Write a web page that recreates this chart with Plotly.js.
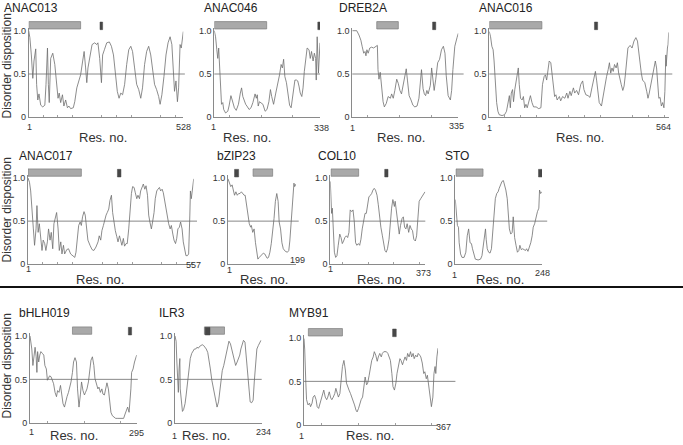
<!DOCTYPE html>
<html>
<head>
<meta charset="utf-8">
<script src="https://cdn.plot.ly/plotly-3.0.1.min.js"></script>
<style>html,body{margin:0;padding:0;background:#fff;}#chart{width:683px;height:445px;}</style>
</head>
<body>
<div id="chart"></div>
<script>
// ---------- DATA ----------
const proteins = ['ANAC013','ANAC046','DREB2A','ANAC016','ANAC017','bZIP23','COL10','STO','bHLH019','ILR3','MYB91'];
const lengths  = [528,338,335,564,557,199,373,248,295,234,367];
const yTickVals = [0, 0.5, 1];
const yTickText = ['0', '0.5', '1.0'];
const threshold = 0.5;
// domain bars (residue ranges)
const greyStart = [1,1,78,1,1,74,4,3,118,80,13];
const greyEnd   = [178,168,146,166,180,131,112,80,171,134,106];
const darkStart = [244,331,254,331,301,20,214,238,272,82,243];
const darkEnd   = [253,338,264,341,313,32,227,248,281,95,253];

const anac013_res = [1,5,10,15,19,25,28,32,36,42,49,56,60,65,68,71,76,83,90,96,101,105,110,116,121,127,133,138,144,153,158,165,173,178,185,190,195,199,203,210,217,226,233,237,243,249,253,259,267,276,283,290,296,303,309,315,321,328,335,342,349,355,362,369,376,383,389,396,403,410,417,424,430,437,444,449,455,462,469,476,483,489,494,498,503,508,512,517,521,523,528];
const anac013_dis = [1.0,0.92,0.72,0.45,0.65,0.79,0.38,0.2,0.27,0.14,0.12,0.14,0.38,0.8,0.38,0.17,0.68,0.74,0.61,0.38,0.22,0.28,0.17,0.26,0.13,0.2,0.11,0.13,0.1,0.11,0.18,0.34,0.43,0.49,0.65,0.76,0.57,0.4,0.57,0.72,0.84,0.86,0.84,0.86,0.68,0.4,0.72,0.78,0.86,0.87,0.82,0.72,0.51,0.3,0.22,0.28,0.26,0.38,0.61,0.78,0.82,0.76,0.57,0.38,0.32,0.22,0.34,0.61,0.76,0.82,0.72,0.54,0.38,0.32,0.24,0.15,0.26,0.47,0.72,0.86,0.93,0.84,0.54,0.3,0.42,0.18,0.34,0.84,0.8,0.88,0.99];

const anac046_res = [1,5,9,12,15,18,21,24,28,31,37,44,48,54,58,65,71,78,84,88,92,97,101,105,112,118,124,131,135,138,141,145,150,156,163,169,175,180,184,190,197,203,209,214,218,222,226,231,237,241,246,250,254,258,263,267,271,275,280,284,288,292,297,303,307,311,316,320,324,326,329,333,338];
const anac046_dis = [1.0,0.93,0.78,0.68,0.8,0.57,0.26,0.15,0.17,0.09,0.05,0.07,0.13,0.25,0.2,0.11,0.08,0.15,0.28,0.34,0.24,0.18,0.15,0.13,0.09,0.11,0.17,0.27,0.22,0.26,0.13,0.18,0.17,0.15,0.07,0.09,0.18,0.32,0.24,0.15,0.28,0.38,0.49,0.61,0.57,0.67,0.47,0.4,0.26,0.14,0.11,0.22,0.38,0.43,0.43,0.42,0.36,0.28,0.24,0.34,0.53,0.68,0.8,0.78,0.68,0.76,0.65,0.74,0.68,0.43,0.93,0.51,0.86];

const dreb2a_res = [1,15,22,28,32,37,41,44,47,51,56,62,68,75,80,82,85,89,93,98,102,108,114,121,125,130,135,141,146,151,156,162,167,171,175,180,186,192,198,205,211,215,219,224,228,232,236,240,247,251,255,259,264,270,276,282,288,293,297,303,310,314,318,324,331,335];
const dreb2a_dis = [1.0,1.0,0.95,0.89,0.82,0.74,0.76,0.71,0.78,0.74,0.8,0.81,0.8,0.82,0.83,0.55,0.44,0.52,0.37,0.18,0.12,0.16,0.24,0.22,0.27,0.22,0.31,0.44,0.39,0.31,0.27,0.4,0.48,0.56,0.42,0.25,0.2,0.14,0.12,0.13,0.22,0.4,0.55,0.33,0.27,0.25,0.31,0.27,0.37,0.57,0.39,0.31,0.44,0.63,0.67,0.78,0.82,0.74,0.48,0.25,0.2,0.31,0.55,0.82,0.92,0.97];

const anac016_res = [1,5,9,13,16,20,24,28,32,41,49,55,60,64,67,70,74,77,81,85,89,92,95,99,104,108,112,116,120,124,130,135,140,148,156,163,168,173,177,181,185,189,194,198,202,206,210,214,221,225,231,238,244,248,254,258,265,269,275,281,288,294,298,304,311,317,323,330,334,338,342,346,353,357,361,365,369,374,378,382,386,390,394,399,403,407,411,415,420,424,428,432,436,443,449,455,461,466,470,474,478,482,489,495,499,503,510,516,522,526,529,533,537,541,545,549,552,555,556,560,562,564];
const anac016_dis = [0.99,0.93,0.82,0.78,0.65,0.38,0.17,0.07,0.03,0.02,0.03,0.07,0.2,0.25,0.11,0.28,0.32,0.18,0.32,0.43,0.54,0.57,0.38,0.22,0.2,0.24,0.11,0.15,0.11,0.18,0.25,0.17,0.12,0.12,0.1,0.11,0.38,0.47,0.49,0.43,0.57,0.65,0.63,0.47,0.32,0.24,0.26,0.2,0.24,0.19,0.24,0.22,0.28,0.22,0.3,0.25,0.34,0.28,0.31,0.26,0.38,0.42,0.32,0.26,0.25,0.23,0.34,0.47,0.53,0.42,0.26,0.17,0.13,0.22,0.32,0.36,0.47,0.55,0.63,0.51,0.57,0.53,0.61,0.57,0.63,0.51,0.43,0.38,0.31,0.36,0.49,0.68,0.8,0.83,0.8,0.88,0.92,0.88,0.74,0.65,0.51,0.43,0.4,0.3,0.22,0.28,0.42,0.55,0.65,0.57,0.36,0.22,0.23,0.13,0.17,0.11,0.3,0.72,0.59,0.8,0.84,0.98];

const anac017_res = [1,6,10,14,19,23,28,31,35,39,44,48,52,57,61,66,70,75,79,84,88,93,97,102,106,111,115,120,124,131,137,144,151,158,162,167,171,176,180,184,189,193,198,202,209,216,222,229,236,240,245,249,254,258,263,267,272,276,281,285,290,294,299,303,308,312,316,321,325,330,334,339,343,348,352,357,361,366,370,375,379,384,388,393,397,402,406,410,415,419,424,428,433,437,442,446,451,455,460,464,469,473,478,482,487,491,496,500,504,509,513,518,522,527,531,536,540,544,546,549,554,557];
const anac017_dis = [1.0,0.95,0.85,0.6,0.41,0.22,0.41,0.68,0.37,0.47,0.26,0.16,0.28,0.24,0.16,0.26,0.41,0.28,0.37,0.18,0.47,0.57,0.6,0.41,0.16,0.26,0.12,0.22,0.12,0.17,0.18,0.12,0.1,0.08,0.14,0.28,0.45,0.49,0.45,0.55,0.61,0.57,0.41,0.28,0.22,0.17,0.16,0.2,0.26,0.33,0.28,0.39,0.45,0.51,0.57,0.6,0.64,0.74,0.8,0.6,0.45,0.39,0.32,0.26,0.33,0.28,0.22,0.3,0.21,0.24,0.24,0.41,0.64,0.82,0.9,0.89,0.83,0.76,0.8,0.76,0.85,0.91,0.93,0.87,0.91,0.8,0.57,0.49,0.41,0.49,0.6,0.76,0.85,0.87,0.89,0.85,0.87,0.83,0.72,0.68,0.57,0.47,0.41,0.45,0.35,0.28,0.24,0.3,0.41,0.43,0.49,0.41,0.26,0.14,0.1,0.1,0.12,0.57,0.85,0.76,0.87,0.99];

const bzip23_res = [1,5,9,13,17,20,24,28,32,36,40,44,48,51,55,59,63,67,69,73,77,81,84,88,92,96,100,104,108,112,115,119,123,127,131,135,139,143,147,150,154,158,162,168,174,178,181,185,189,193,195,199];
const bzip23_dis = [0.99,0.95,0.9,0.92,0.84,0.8,0.84,0.8,0.82,0.82,0.84,0.82,0.8,0.8,0.69,0.57,0.47,0.43,0.45,0.37,0.41,0.25,0.14,0.06,0.08,0.1,0.12,0.13,0.12,0.08,0.07,0.08,0.14,0.24,0.37,0.53,0.73,0.82,0.73,0.49,0.41,0.25,0.18,0.15,0.14,0.16,0.27,0.47,0.69,0.94,0.9,0.93];

const col10_res = [1,4,6,9,13,17,22,27,32,38,43,48,53,58,64,69,74,79,85,90,95,100,105,111,116,121,126,132,137,142,147,152,158,163,168,173,178,184,189,194,199,205,210,215,220,225,231,236,241,246,252,255,261,266,271,276,282,287,292,297,302,308,313,318,323,328,334,339,344,349,355,360,365,372];
const col10_dis = [0.96,0.73,0.59,0.65,0.41,0.14,0.08,0.1,0.22,0.35,0.31,0.24,0.27,0.31,0.33,0.31,0.37,0.63,0.61,0.63,0.49,0.25,0.22,0.24,0.22,0.29,0.41,0.53,0.59,0.59,0.69,0.78,0.8,0.82,0.86,0.88,0.86,0.8,0.69,0.55,0.43,0.33,0.24,0.16,0.14,0.18,0.29,0.49,0.65,0.75,0.67,0.73,0.57,0.41,0.35,0.45,0.53,0.55,0.43,0.41,0.47,0.37,0.45,0.41,0.39,0.29,0.27,0.33,0.49,0.73,0.76,0.78,0.8,0.84];

const sto_res = [1,4,7,10,12,16,20,26,31,35,39,43,47,50,54,58,66,73,77,81,84,87,89,92,96,100,104,107,111,115,119,123,126,130,134,138,142,145,149,151,155,159,163,166,170,174,178,182,185,189,193,197,201,204,208,212,216,220,223,227,231,235,239,241,244,247];
const sto_dis = [0.75,0.53,0.45,0.43,0.25,0.12,0.08,0.08,0.14,0.33,0.41,0.25,0.24,0.18,0.1,0.06,0.05,0.06,0.1,0.22,0.37,0.41,0.29,0.18,0.14,0.13,0.18,0.33,0.57,0.76,0.82,0.84,0.88,0.92,0.96,0.97,0.92,0.86,0.76,0.61,0.41,0.35,0.37,0.55,0.31,0.22,0.14,0.16,0.22,0.17,0.18,0.17,0.16,0.18,0.15,0.2,0.25,0.33,0.43,0.47,0.55,0.61,0.65,0.86,0.82,0.84];

const bhlh019_res = [1,4,6,9,12,15,18,20,22,25,28,31,35,39,42,46,49,52,55,59,63,66,70,74,77,81,85,88,92,96,99,103,107,110,114,118,121,125,129,132,136,140,143,147,151,154,158,162,165,169,173,177,180,184,188,191,195,199,202,206,210,213,217,221,224,228,232,237,243,248,254,259,263,267,270,274,277,279,281,285,289,295];
const bhlh019_dis = [1.0,0.93,0.85,0.66,0.74,0.87,0.76,0.58,0.82,0.7,0.78,0.82,0.8,0.78,0.66,0.62,0.49,0.51,0.54,0.53,0.47,0.45,0.35,0.3,0.37,0.35,0.43,0.32,0.22,0.18,0.24,0.3,0.35,0.39,0.47,0.58,0.7,0.75,0.7,0.39,0.18,0.33,0.47,0.37,0.32,0.35,0.39,0.47,0.62,0.72,0.76,0.66,0.51,0.43,0.39,0.41,0.35,0.39,0.33,0.32,0.43,0.46,0.39,0.24,0.12,0.08,0.07,0.05,0.05,0.05,0.05,0.05,0.1,0.16,0.18,0.12,0.24,0.39,0.58,0.62,0.7,0.78];

const ilr3_res = [1,4,6,8,10,12,14,15,18,21,24,28,31,35,39,42,46,49,53,57,60,64,67,71,74,78,82,85,89,92,96,100,103,107,110,114,118,121,125,128,132,135,139,143,146,150,153,157,160,164,168,171,175,178,182,185,189,193,196,200,203,207,211,214,218,221,225,229,232];
const ilr3_dis = [1.0,0.94,0.7,0.58,0.35,0.62,0.74,0.39,0.2,0.13,0.15,0.22,0.32,0.47,0.62,0.74,0.8,0.83,0.85,0.85,0.87,0.86,0.88,0.89,0.9,0.89,0.87,0.85,0.81,0.74,0.62,0.49,0.42,0.34,0.26,0.18,0.24,0.35,0.49,0.6,0.66,0.72,0.81,0.89,0.94,0.91,0.85,0.78,0.7,0.66,0.7,0.74,0.78,0.85,0.91,0.95,0.93,0.74,0.55,0.35,0.24,0.23,0.26,0.47,0.7,0.85,0.89,0.93,0.95];

const myb91_res = [1,3,6,8,12,16,19,23,26,30,34,37,41,45,48,52,55,59,63,66,70,74,77,81,85,88,92,95,99,103,106,110,114,117,121,124,128,132,135,139,143,146,150,154,157,161,164,168,172,175,179,183,186,190,193,197,201,204,208,212,215,219,223,226,230,233,237,241,244,248,252,255,259,263,266,270,273,277,281,284,288,292,295,299,302,306,310,313,317,320,324,328,331,335,338,342,346,349,353,356,359,361,364,367];
const myb91_dis = [0.99,0.86,0.48,0.29,0.23,0.25,0.21,0.25,0.32,0.34,0.29,0.21,0.19,0.25,0.32,0.38,0.4,0.32,0.29,0.32,0.38,0.31,0.29,0.32,0.36,0.42,0.36,0.32,0.36,0.59,0.67,0.74,0.63,0.48,0.42,0.4,0.36,0.32,0.29,0.23,0.17,0.15,0.19,0.25,0.29,0.32,0.42,0.55,0.46,0.48,0.57,0.69,0.74,0.78,0.84,0.8,0.73,0.78,0.82,0.78,0.82,0.84,0.84,0.84,0.82,0.78,0.74,0.59,0.44,0.4,0.48,0.59,0.67,0.76,0.74,0.69,0.73,0.78,0.74,0.82,0.78,0.84,0.78,0.82,0.76,0.8,0.78,0.82,0.8,0.78,0.71,0.59,0.61,0.53,0.57,0.44,0.29,0.21,0.32,0.59,0.67,0.59,0.78,0.88];

const residueSeries = [anac013_res, anac046_res, dreb2a_res, anac016_res, anac017_res, bzip23_res, col10_res, sto_res, bhlh019_res, ilr3_res, myb91_res];
const disorderSeries = [anac013_dis, anac046_dis, dreb2a_dis, anac016_dis, anac017_dis, bzip23_dis, col10_dis, sto_dis, bhlh019_dis, ilr3_dis, myb91_dis];

// ---------- LAYOUT (pixel boxes: left, right, top(y=1.03), bottom(y=0)) ----------
const W = 683, H = 445;
const YMAX = 1.03;
const boxes = [
  [28.7,183.3,28.1,117.3],[214.3,320,28.1,117.3],[352.3,458.3,28.1,117.3],[489.3,668.7,28.1,117.3],
  [28,193.7,175.4,264.3],[228,296,175.4,264.3],[330.3,425.3,175.4,264.3],[455.3,542,175.4,264.3],
  [30,136.7,333.4,422.7],[175,261.7,333.4,422.7],[304,438,335.1,425]
];
const titlePos = [[2,8],[202,8],[337,8],[477,8],[17,156],[215,156],[316,156],[443,156],[17,313],[157,313],[287,313]];
const resLabelPos = [[103,137],[247,137],[401,137],[580,137],[100,279],[264,279],[381,279],[500,279],[74,435],[206,435],[370,435]];
const startLabelPos = [[29,127],[213,127],[352,128],[489,128],[28.5,269],[229.5,270],[330,269],[454.5,275],[31,432],[174,436],[301,436]];
const endLabelPos = [[183.5,127],[321,128],[456,126],[663,127],[193,265],[297,259.5],[423,273],[542.5,272.5],[136,432.5],[263,432],[443,427]];
const lineExt = [1.01,1.0,1.05,1.02,1.02,1.04,1.0,1.06,1.01,1.0,1.13];
const ylabPos = [66,210,366];

const FONT = 'Liberation Sans, Arial, Helvetica, sans-serif';
const px = v => v / W;
const py = v => 1 - v / H;

const data = [];
const shapes = [];
const annotations = [];
const layout = {
  width: W, height: H,
  margin: {l:0, r:0, t:0, b:0},
  paper_bgcolor: '#fff', plot_bgcolor: 'rgba(0,0,0,0)',
  showlegend: false,
  font: {family: FONT, color: '#333'},
  shapes: shapes, annotations: annotations
};

proteins.forEach((name, i) => {
  const n = i + 1;
  const xa = n === 1 ? 'x' : 'x' + n;
  const ya = n === 1 ? 'y' : 'y' + n;
  const xk = n === 1 ? 'xaxis' : 'xaxis' + n;
  const yk = n === 1 ? 'yaxis' : 'yaxis' + n;
  const [l, r, t, b] = boxes[i];

  data.push({
    type: 'scatter', mode: 'lines',
    x: residueSeries[i], y: disorderSeries[i],
    xaxis: xa, yaxis: ya,
    line: {color: '#6f6f6f', width: 0.8},
    hoverinfo: 'skip', cliponaxis: true
  });

  layout[xk] = {
    domain: [px(l), px(r)], anchor: ya,
    range: [1, lengths[i]],
    showline: true, linecolor: '#8a8a8a', linewidth: 1,
    showgrid: false, zeroline: false, showticklabels: false, ticks: '',
    minor: {ticks: 'inside', ticklen: 2, tickcolor: '#a0a0a0', tickwidth: 1, tickmode: 'linear', tick0: 0, dtick: 50, showgrid: false},
    fixedrange: true
  };
  layout[yk] = {
    domain: [py(b), py(t)], anchor: xa,
    range: [0, YMAX],
    tickmode: 'array', tickvals: yTickVals, ticktext: yTickText,
    tickfont: {size: 9, color: '#333', family: FONT},
    ticks: '', ticklen: 0,
    showline: true, linecolor: '#8a8a8a', linewidth: 1,
    showgrid: false, zeroline: false, fixedrange: true
  };

  // 0.5 threshold line
  shapes.push({type: 'line', xref: xa + ' domain', yref: ya, x0: 0, x1: lineExt[i], y0: threshold, y1: threshold,
    line: {color: '#6a6a6a', width: 0.8}});
  // domain bars
  shapes.push({type: 'rect', xref: xa, yref: ya + ' domain', x0: greyStart[i], x1: greyEnd[i],
    y0: 1.02 / YMAX, y1: 1.105 / YMAX, fillcolor: '#a9a9a9', line: {color: '#7d7d7d', width: 0.7}});
  shapes.push({type: 'rect', xref: xa, yref: ya + ' domain', x0: darkStart[i], x1: darkEnd[i],
    y0: 1.012 / YMAX, y1: 1.10 / YMAX, fillcolor: '#474747', line: {color: '#474747', width: 0.5}});

  // panel title
  annotations.push({text: name, xref: 'paper', yref: 'paper', x: px(titlePos[i][0]), y: py(titlePos[i][1]),
    xanchor: 'left', yanchor: 'middle', showarrow: false, font: {size: 12, color: '#222', family: FONT}});
  // x axis title
  annotations.push({text: 'Res. no.', xref: 'paper', yref: 'paper', x: px(resLabelPos[i][0]), y: py(resLabelPos[i][1]),
    xanchor: 'center', yanchor: 'middle', showarrow: false, font: {size: 13, color: '#333', family: FONT}});
  // x tick labels: 1 and length
  annotations.push({text: '1', xref: 'paper', yref: 'paper', x: px(startLabelPos[i][0]), y: py(startLabelPos[i][1]),
    xanchor: 'center', yanchor: 'middle', showarrow: false, font: {size: 9, color: '#333', family: FONT}});
  annotations.push({text: String(lengths[i]), xref: 'paper', yref: 'paper', x: px(endLabelPos[i][0]), y: py(endLabelPos[i][1]),
    xanchor: 'center', yanchor: 'middle', showarrow: false, font: {size: 9, color: '#333', family: FONT}});
});

// y axis titles (one per row)
ylabPos.forEach(yc => {
  annotations.push({text: 'Disorder disposition', xref: 'paper', yref: 'paper', x: px(6.5), y: py(yc),
    xanchor: 'center', yanchor: 'middle', textangle: -90, showarrow: false, font: {size: 12, color: '#333', family: FONT}});
});

// divider between the two groups
shapes.push({type: 'line', xref: 'paper', yref: 'paper', x0: 0, x1: 1, y0: py(287), y1: py(287),
  line: {color: '#111', width: 2}});

Plotly.newPlot('chart', data, layout, {staticPlot: true, displayModeBar: false});
</script>
</body>
</html>
